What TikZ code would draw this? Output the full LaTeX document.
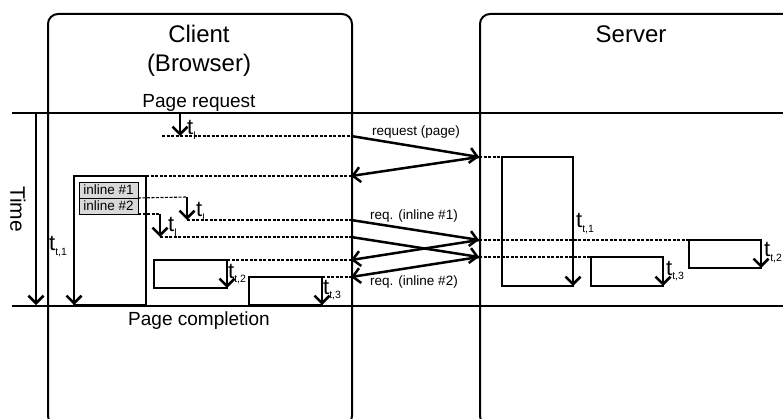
\documentclass[tikz,border=0pt]{standalone}
\usepackage{fontspec}
\setmainfont{Liberation Sans}
\usetikzlibrary{arrows.meta}
% t with a lowered index, as used for the timing labels
\newcommand\tsym[1]{{\fontsize{22}{22}\selectfont t}\raisebox{-5pt}{\fontsize{10.5}{10.5}\selectfont #1}}

\begin{document}
\begin{tikzpicture}[x=1pt,y=-1pt,
  lane/.style={draw, line width=2pt, rounded corners=10pt, inner sep=0pt, anchor=north west},
  timeline/.style={line width=2.5pt},
  flow/.style={line width=2.5pt, -{Straight Barb[length=7.5pt,width=15pt]}},
  guide/.style={line width=1.1pt, dash pattern=on 3pt off 1.5pt},
  work/.style={draw, line width=2.2pt, inner sep=0pt, outer sep=0pt, anchor=north west},
  inl/.style={draw, line width=0.9pt, fill=gray!30, inner sep=0pt, outer sep=0pt,
              minimum width=59pt, minimum height=16pt, anchor=north west,
              font=\fontsize{13.5}{13.5}\selectfont},
  lbl/.style={inner sep=0pt, anchor=base west},
  msg/.style={font=\fontsize{13.5}{13.5}\selectfont, inner sep=0pt, anchor=base},
  title/.style={font=\fontsize{24}{24}\selectfont, inner sep=0pt, anchor=base},
  event/.style={font=\fontsize{19}{19}\selectfont, inner sep=0pt, anchor=base},
]
\useasboundingbox (0,0) rectangle (783,419);

% swimlanes
\node[lane, minimum width=304pt, minimum height=412pt] (client) at (47,13) {};
\node[lane, minimum width=340pt, minimum height=412pt] (server) at (479,13) {};
\node[title] (clientT) at (199,43) {Client};
\node[title] (clientB) at (199,72) {(Browser)};
\node[title] (serverT) at (631,43) {Server};

% time frame
\coordinate (topL) at (12,113);  \coordinate (topR) at (790,113);
\coordinate (botL) at (12,306);  \coordinate (botR) at (790,306);
\draw[timeline] (topL) -- (topR);
\draw[timeline] (botL) -- (botR);
\node[event] (preq) at (199,108) {Page request};
\node[event] (pdone) at (199,325) {Page completion};
\coordinate (time0) at (36,113);
\coordinate (time1) at (36,305);
\draw[flow] (time0) -- (time1);
\node[font=\fontsize{21}{21}\selectfont, inner sep=0pt, rotate=-90] (timeL) at (18,209) {Time};

% client processing boxes
\node[work, minimum width=72pt, minimum height=129pt] (cmain) at (74,176) {};
\node[work, minimum width=73pt, minimum height=28pt] (cbox2) at (154,260) {};
\node[work, minimum width=73pt, minimum height=28pt] (cbox3) at (249,277) {};
\node[inl] (in1) at (79,182) {inline \#1};
\node[inl] (in2) at (79,198) {inline \#2};

% server processing boxes
\node[work, minimum width=71pt, minimum height=129pt] (smain) at (502,157) {};
\node[work, minimum width=72pt, minimum height=29pt] (sbox3) at (591,257) {};
\node[work, minimum width=72pt, minimum height=28pt] (sbox2) at (689,240) {};

% durations along the boxes
\draw[flow] (cmain.north west) -- (cmain.south west);
\draw[flow] (cbox2.north east) -- (cbox2.south east);
\draw[flow] (cbox3.north east) -- (cbox3.south east);
\draw[flow] (smain.north east) -- (smain.south east);
\draw[flow] (sbox3.north east) -- (sbox3.south east);
\draw[flow] (sbox2.north east) -- (sbox2.south east);
\node[lbl] (lc1) at (49,251) {\tsym{t,1}};
\node[lbl] (lc2) at (228,278) {\tsym{t,2}};
\node[lbl] (lc3) at (323,294) {\tsym{t,3}};
\node[lbl] (ls1) at (576,228) {\tsym{t,1}};
\node[lbl] (ls3) at (666,275) {\tsym{t,3}};
\node[lbl] (ls2) at (764,257) {\tsym{t,2}};

% latency before each request leaves the client
\coordinate (l0a) at (180,113); \coordinate (l0b) at (180,136);
\coordinate (l1a) at (187,197); \coordinate (l1b) at (187,220);
\coordinate (l2a) at (160,214); \coordinate (l2b) at (160,237);
\draw[flow] (l0a) -- (l0b);
\draw[flow] (l1a) -- (l1b);
\draw[flow] (l2a) -- (l2b);
\node[lbl] (ll0) at (187,135) {\tsym{l}};
\node[lbl] (ll1) at (196,217) {\tsym{l}};
\node[lbl] (ll2) at (168,232) {\tsym{l}};
\draw[guide] (in1.south east) -- (l1a);
\draw[guide] (in2.south east) -- (l2a);

% anchor points on the lane borders
\coordinate (c0) at (351,136);  \coordinate (s0) at (479,157);
\coordinate (c0r) at (351,176);
\coordinate (c1) at (351,220);  \coordinate (s1) at (479,240);
\coordinate (c2) at (351,237);  \coordinate (s2) at (479,257);
\coordinate (c1r) at (351,260);
\coordinate (c2r) at (351,277);
\coordinate (g0) at (162,136);

% dashed guides
\draw[guide] (g0) -- (c0);
\draw[guide] (cmain.north east) -- (c0r);
\draw[guide] (l1b) -- (c1);
\draw[guide] (l2b) -- (c2);
\draw[guide] (cbox2.north east) -- (c1r);
\draw[guide] (cbox3.north east) -- (c2r);
\draw[guide] (s0) -- (smain.north west);
\draw[guide] (s1) -- (sbox2.north west);
\draw[guide] (s2) -- (sbox3.north west);

% messages
\draw[flow] (c0) -- (s0);
\draw[flow] (s0) -- (c0r);
\draw[flow] (c1) -- (s1);
\draw[flow] (c2) -- (s2);
\draw[flow] (s1) -- (c1r);
\draw[flow] (s2) -- (c2r);
\node[msg] (m0) at (416,136) {request (page)};
\node[msg] (m1) at (414,220) {req. (inline \#1)};
\node[msg] (m2) at (414,285) {req. (inline \#2)};
\end{tikzpicture}
\end{document}
